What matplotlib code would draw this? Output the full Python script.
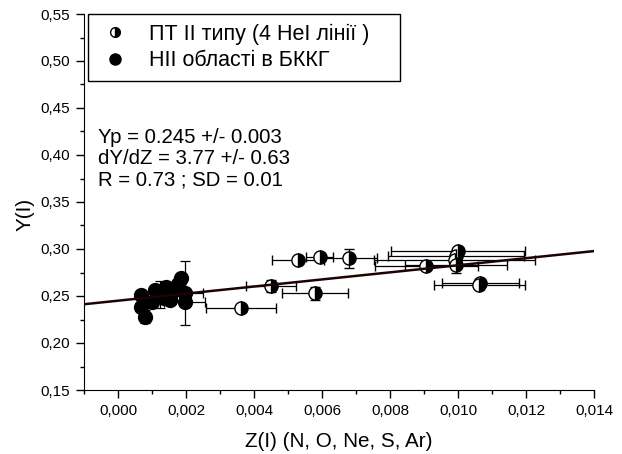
import matplotlib
matplotlib.use("Agg")
import matplotlib.pyplot as plt
import numpy as np
from matplotlib.ticker import MultipleLocator, FuncFormatter

plt.rcParams['font.family'] = ['Liberation Sans', 'DejaVu Sans']

# PN type II (half-filled)
pn_x = [0.00363, 0.00449, 0.00579, 0.00530, 0.00593, 0.00680, 0.00907,
        0.01000, 0.00995, 0.00990, 0.00995, 0.01065, 0.01063]
pn_y = [0.2372, 0.2606, 0.2529, 0.2883, 0.2918, 0.2900, 0.2815,
        0.2980, 0.2930, 0.2880, 0.2825, 0.2640, 0.2615]
pn_xerr = [0.00103, 0.00074, 0.00098, 0.00077, 0.00039, 0.00082, 0.00152,
           0.00196, 0.00200, 0.00237, 0.00150, 0.00113, 0.00134]
pn_yerr = [0.002, 0.0066, 0.007, 0.002, 0.003, 0.0103, 0.002,
           0.003, 0.003, 0.003, 0.008, 0.003, 0.003]

# HII regions in BCDG (filled)
hii_x = [0.00069, 0.00069, 0.00078, 0.00100, 0.00108, 0.00123, 0.00135,
         0.00142, 0.00152, 0.00160, 0.00175, 0.00186, 0.00196, 0.00196]
hii_y = [0.2511, 0.2386, 0.2280, 0.2440, 0.2564, 0.2514, 0.2480,
         0.2599, 0.2457, 0.2540, 0.2630, 0.2688, 0.2534, 0.2440]
hii_xerr = [0, 0, 0, 0, 0, 0, 0, 0, 0, 0, 0, 0, 0.00055, 0.00060]
hii_yerr = [0.003, 0.003, 0.007, 0.003, 0.003, 0.0144, 0.004,
            0.003, 0.003, 0.004, 0.003, 0.006, 0.0342, 0.003]

# Fit
fit_yp = 0.245
fit_slope = 3.77
fit_x = [-0.001, 0.014]

labels = ["ПТ II типу (4 HeI лінії )", "НІІ області в БККГ"]
annot_lines = ["Yp = 0.245 +/- 0.003", "dY/dZ = 3.77 +/- 0.63", "R = 0.73 ; SD = 0.01"]

W, H = 622, 454
fig = plt.figure(figsize=(W/100, H/100), dpi=100)
ax = fig.add_axes([84/W, 1-390/H, 510/W, 376/H])

ax.errorbar(hii_x, hii_y, xerr=hii_xerr, yerr=hii_yerr, fmt='o', ms=10,
            color='black', mfc='black', mec='black', ecolor='black',
            elinewidth=0.9, capsize=3.5, capthick=0.9, zorder=3)
ax.errorbar(pn_x, pn_y, xerr=pn_xerr, yerr=pn_yerr, fmt='o', ms=9.5,
            fillstyle='right', mfc='black', mfcalt='white', mec='black',
            ecolor='black', elinewidth=0.9, capsize=3.5, capthick=0.9, mew=1.0,
            zorder=3)

fx = np.array(fit_x)
ax.plot(fx, fit_yp + fit_slope * fx, color='#1e0303', lw=1.8, zorder=5)

ax.set_xlim(-0.001, 0.014)
ax.set_ylim(0.15, 0.55)
ax.xaxis.set_major_locator(MultipleLocator(0.002))
ax.xaxis.set_minor_locator(MultipleLocator(0.001))
ax.yaxis.set_major_locator(MultipleLocator(0.05))
ax.yaxis.set_minor_locator(MultipleLocator(0.025))
ax.xaxis.set_major_formatter(FuncFormatter(lambda v, p: f"{v:.3f}".replace('.', ',').replace('-0,000', '0,000')))
ax.yaxis.set_major_formatter(FuncFormatter(lambda v, p: f"{v:.2f}".replace('.', ',')))
ax.spines['top'].set_visible(False)
ax.spines['right'].set_visible(False)
ax.tick_params(which='major', direction='out', length=6, width=1, labelsize=11, pad=4)
ax.tick_params(which='minor', direction='out', length=3, width=1)

ax.set_xlabel("Z(I) (N, O, Ne, S, Ar)", fontsize=14.9)
ax.set_ylabel("Y(I)", fontsize=14.9)
ax.xaxis.set_label_coords(0.5, -(432-390)/376)
ax.yaxis.set_label_coords((35-84)/510, (390-214)/376)

h1 = ax.plot([], [], 'o', ms=7, fillstyle='right', mfc='black', mfcalt='white', mec='black')[0]
h2 = ax.plot([], [], 'o', ms=8, color='black')[0]
leg = ax.legend([h1, h2], labels, loc='upper left',
                bbox_to_anchor=((88-84)/510, 0, (400-88)/510, 1.0), mode='expand',
                borderaxespad=0, fancybox=False, edgecolor='black', framealpha=1,
                fontsize=15.5, handlelength=1.6, handletextpad=0.8, borderpad=0.45,
                labelspacing=0.25)
leg.get_frame().set_linewidth(1.0)

for i, line in enumerate(annot_lines):
    ax.text((98-84)/510, (390-(143+21*i))/376, line, transform=ax.transAxes,
            fontsize=14.7, va='baseline', ha='left')

fig.savefig("out.png", dpi=100)
